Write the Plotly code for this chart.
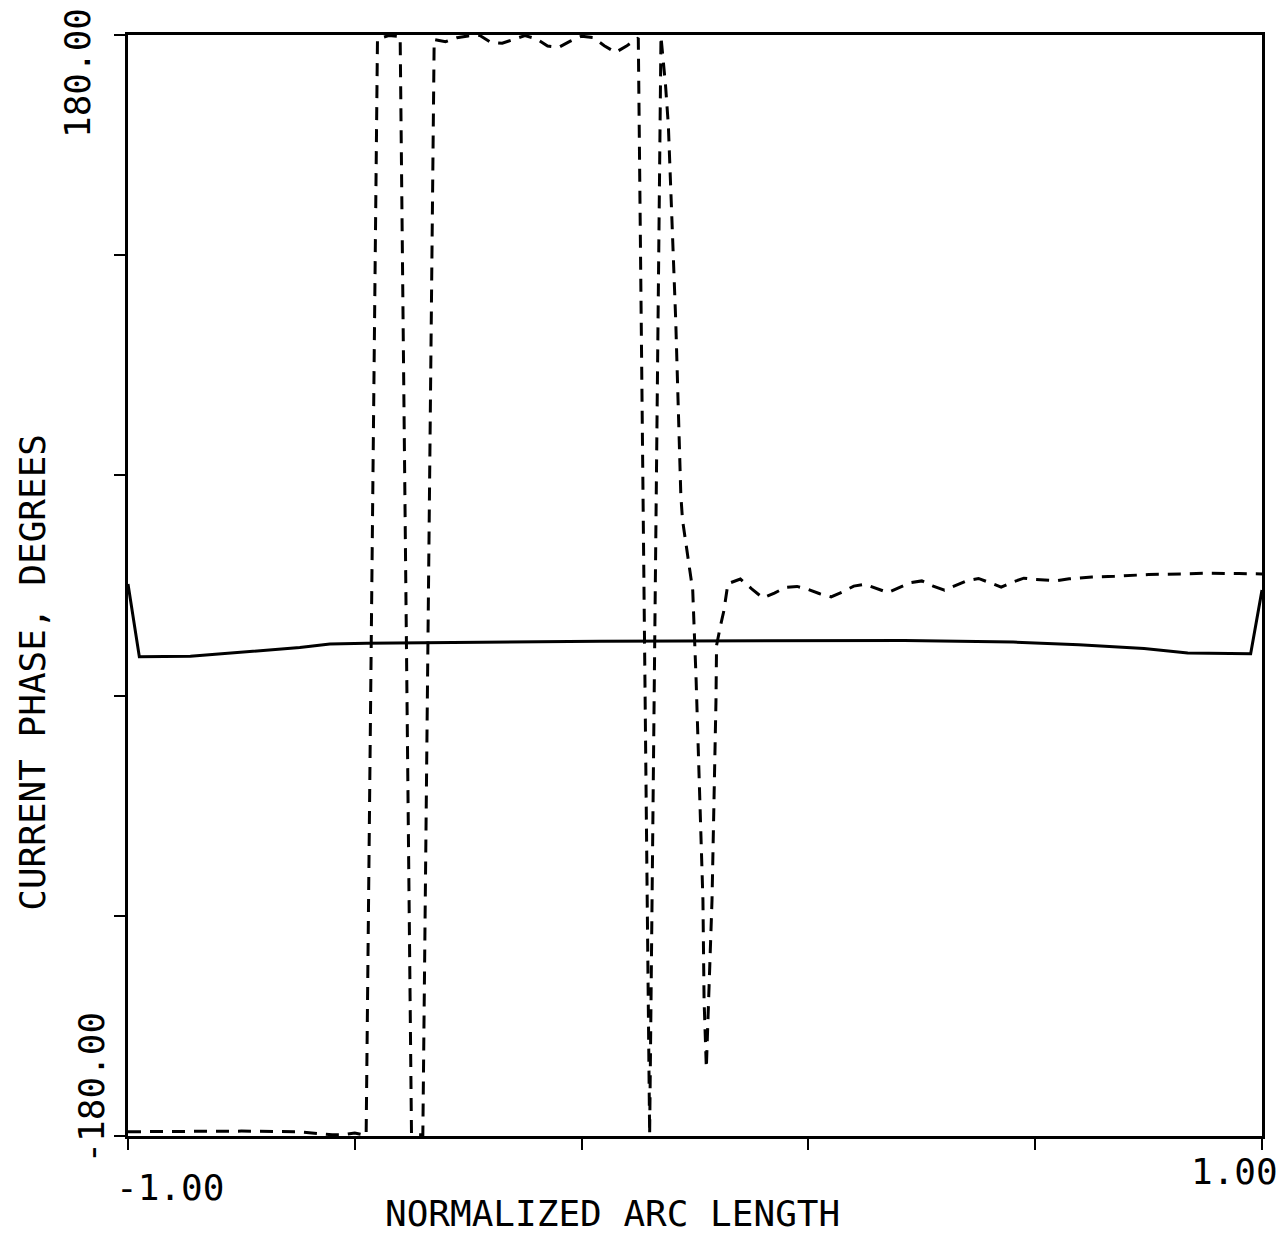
import plotly.graph_objects as go

# Current phase along the normalized arc length (degrees)
arc_solid = [-1.0, -0.98, -0.89, -0.785, -0.697, -0.644, -0.579, -0.168,
             0.369, 0.561, 0.677, 0.792, 0.869, 0.98, 1.0]
phase_solid = [0.5, -23.3, -23.1, -21.7, -20.3, -19.1, -18.9, -18.2,
               -18.0, -18.5, -19.4, -20.6, -22.1, -22.3, -1.5]

arc_dashed = [-1.0, -0.90, -0.80, -0.70, -0.66, -0.64, -0.62, -0.60, -0.58,
              -0.56, -0.54, -0.52, -0.50, -0.48, -0.46,
              -0.44, -0.42, -0.40, -0.38, -0.36, -0.34, -0.32, -0.30, -0.28,
              -0.26, -0.24, -0.22, -0.20, -0.18, -0.16, -0.14, -0.12, -0.10,
              -0.08, -0.06,
              -0.052, -0.047, -0.034, -0.025, -0.022, -0.012, -0.004, 0.002,
              0.009, 0.014, 0.016, 0.020,
              0.024, 0.030, 0.037, 0.038, 0.045, 0.051, 0.058,
              0.08, 0.10, 0.12, 0.14, 0.16, 0.18, 0.20, 0.22, 0.24, 0.26,
              0.28, 0.30, 0.32, 0.34, 0.36, 0.38, 0.40, 0.42, 0.44, 0.46,
              0.48, 0.50, 0.52, 0.54, 0.56, 0.58, 0.60, 0.62, 0.64, 0.66,
              0.68, 0.70, 0.74, 0.80, 0.86, 0.90, 0.96, 1.00]
phase_dashed = [-178.6, -178.4, -178.4, -178.6, -179.4, -179.6, -179.6, -179.0, -179.8,
                178.7, 179.8, 179.5, -179.5, -179.6, 178.5,
                177.8, 179.1, 179.7, 179.9, 177.6, 177.3, 178.5, 179.8, 178.8,
                176.4, 176.0, 178.0, 179.6, 179.2, 176.5, 174.3, 176.5, 179.0,
                -179.5, 179.5,
                163.6, 150.5, 86.7, 29.5, 21.4, 8.3, -1.6, -31.0,
                -70.2, -102.9, -135.6, -157.8,
                -135.6, -102.9, -37.6, -19.6, -13.1, -8.2, 0.6,
                2.1, -1.1, -4.1, -2.5, -0.6, -0.3, -1.3, -2.7, -3.7, -2.1,
                -0.2, 0.4, -1.0, -2.3, -0.7, 0.9, 1.5, -0.2, -1.5, 0.1,
                1.6, 2.3, 0.9, -0.5, 1.1, 2.4, 2.0, 1.7, 1.6, 2.2,
                2.5, 2.8, 3.0, 3.6, 3.8, 4.0, 3.9, 3.8]

x_ticks = [-1.0, -0.6, -0.2, 0.2, 0.6, 1.0]
y_ticks = [-180, -108, -36, 36, 108, 180]

W, H = 1281, 1233
PL, PR, PT, PB = 127.5, 1262.5, 34.5, 1136.0
FONT = "DejaVu Sans Mono"


def paper(px, py):
    """Convert page pixel position to paper coordinates."""
    return (px - PL) / (PR - PL), (PB - py) / (PB - PT)


fig = go.Figure()
fig.add_trace(go.Scatter(x=arc_solid, y=phase_solid, mode="lines",
                         line=dict(color="black", width=3),
                         showlegend=False, hoverinfo="skip"))
fig.add_trace(go.Scatter(x=arc_dashed, y=phase_dashed, mode="lines",
                         line=dict(color="black", width=3, dash="13px,9px"),
                         showlegend=False, hoverinfo="skip"))

axis_common = dict(showline=True, mirror=True, linecolor="black", linewidth=2.5,
                   ticks="outside", tickcolor="black", tickwidth=2,
                   showgrid=False, zeroline=False, showticklabels=False)

fig.update_xaxes(range=[-1, 1], tickvals=x_ticks, ticklen=11, **axis_common)
fig.update_yaxes(range=[-180, 180], tickvals=y_ticks, ticklen=11, **axis_common)

# text, centre x, centre y (page pixels), angle, box height
labels = [
    ("180.00", 77, 73, -90, None),
    ("-180.00", 90, 1088, -90, None),
    ("CURRENT PHASE, DEGREES", 32, 672, -90, None),
    ("-1.00", 170, 1188, 0, None),
    ("1.00", 1235, 1172, 0, None),
    ("NORMALIZED ARC LENGTH", 612, 1213, 0, 36),
]
annotations = []
for text, px, py, ang, box_h in labels:
    ax, ay = paper(px, py)
    ann = dict(text=text, x=ax, y=ay, xref="paper", yref="paper",
               xanchor="center", yanchor="middle", textangle=ang,
               showarrow=False,
               font=dict(family=FONT, size=36, color="black"))
    if box_h:
        ann["height"] = box_h
    annotations.append(ann)

fig.update_layout(
    width=W, height=H, autosize=False,
    margin=dict(l=PL, r=W - PR, t=PT, b=H - PB, pad=0),
    paper_bgcolor="white", plot_bgcolor="white",
    annotations=annotations,
)

fig.write_html("out.html")
